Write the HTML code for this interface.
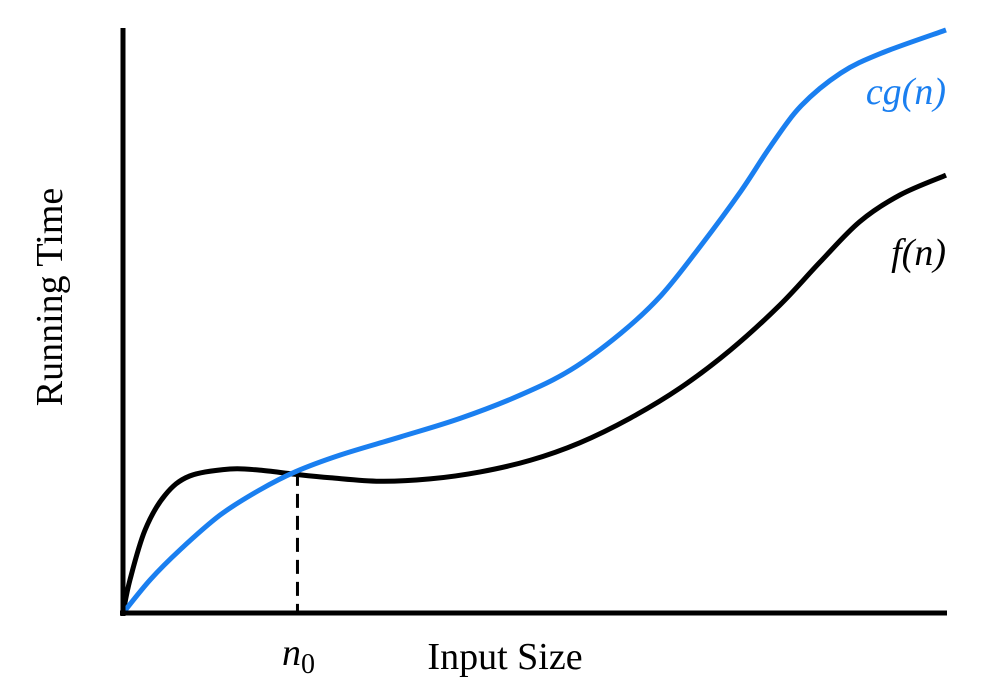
<!DOCTYPE html>
<html><head><meta charset="utf-8"><style>
html,body{margin:0;padding:0;background:#fff;}
svg{display:block;font-family:"Liberation Serif",serif;}
</style></head><body>
<svg id="chart" width="1004" height="698" viewBox="0 0 1004 698">
<g id="curves"></g>
<line x1="123" y1="28" x2="123" y2="616" stroke="#000" stroke-width="5"/>
<line x1="120" y1="613" x2="947" y2="613" stroke="#000" stroke-width="5"/>
<text x="505" y="669" font-size="38" text-anchor="middle">Input Size</text>
<text transform="translate(62,297) rotate(-90)" font-size="38" text-anchor="middle">Running Time</text>
<text x="282" y="665" font-size="38" font-style="italic">n<tspan font-style="normal" font-size="28" dy="8">0</tspan></text>
<text x="946" y="104" font-size="38" font-style="italic" fill="#1a7ff0" text-anchor="end">cg(n)</text>
<text x="946" y="265" font-size="38" font-style="italic" text-anchor="end">f(n)</text>
</svg>
<script>
const fX = [0,0.85,2.67,5.1,8.1,13,16.6,20.9,25.2,31.2,37.3,43.4,49.5,55.5,61.6,67.7,73.8,79.8,84.7,89.5,94.4,100];
const fY = [0,5.7,14.2,20.2,23.5,24.7,24.5,23.8,23.2,22.6,23.0,24.2,26.2,29.2,33.4,38.6,45.1,52.8,60.2,67.1,71.7,75.1];
const gX = [0,3.3,6.9,11.8,16.6,20.9,26.4,33.7,41,48.3,54.4,60.5,65.4,70.2,75.1,78.7,82.4,87.2,92.1,100];
const gY = [0,5.7,10.8,16.8,21.1,24.2,27.1,30.2,33.4,37.4,41.7,48,54.5,63,72.4,80.1,87,92.6,96,100];
const n0 = 21.2;
const sx = v => 123 + v/100*823;
const sy = v => 613 - v/100*583;
function path(xs, ys){
  const p = xs.map((x,i)=>[sx(x), sy(ys[i])]);
  let d = `M${p[0][0]},${p[0][1]}`;
  for(let i=0;i<p.length-1;i++){
    const p0=p[Math.max(0,i-1)],p1=p[i],p2=p[i+1],p3=p[Math.min(p.length-1,i+2)];
    const c1=[p1[0]+(p2[0]-p0[0])/6,p1[1]+(p2[1]-p0[1])/6];
    const c2=[p2[0]-(p3[0]-p1[0])/6,p2[1]-(p3[1]-p1[1])/6];
    d+=` C${c1[0]},${c1[1]} ${c2[0]},${c2[1]} ${p2[0]},${p2[1]}`;
  }
  return d;
}
const g = document.getElementById('curves');
const NS='http://www.w3.org/2000/svg';
const dash = document.createElementNS(NS,'line');
dash.setAttribute('x1',sx(n0));dash.setAttribute('x2',sx(n0));
dash.setAttribute('y1',sy(24.2));dash.setAttribute('y2',613);
dash.setAttribute('stroke','#000');dash.setAttribute('stroke-width','3');dash.setAttribute('stroke-dasharray','14,8');


g.appendChild(dash);
const fp = document.createElementNS(NS,'path');
fp.setAttribute('d',path(fX,fY));fp.setAttribute('fill','none');fp.setAttribute('stroke','#000');fp.setAttribute('stroke-width','5');


g.appendChild(fp);
const gp = document.createElementNS(NS,'path');
gp.setAttribute('d',path(gX,gY));gp.setAttribute('fill','none');gp.setAttribute('stroke','#1a7ff0');gp.setAttribute('stroke-width','5');


g.appendChild(gp);
</script>
</body></html>
